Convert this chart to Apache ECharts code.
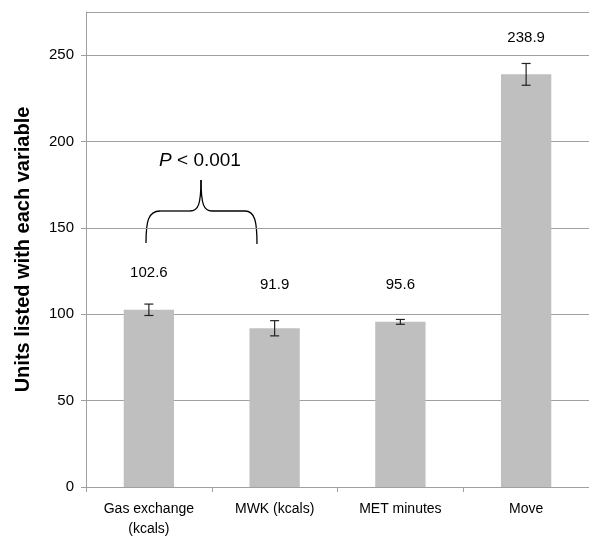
<!DOCTYPE html>
<html>
<head>
<meta charset="utf-8">
<script src="https://cdn.jsdelivr.net/npm/echarts@6/dist/echarts.min.js"></script>
<style>html,body{margin:0;padding:0;background:#fff;}#c{width:589px;height:539px;}</style>
</head>
<body>
<div id="c"></div>
<script>
var categories = ['Gas exchange\n(kcals)', 'MWK (kcals)', 'MET minutes', 'Move'];
var values = [102.6, 91.9, 95.6, 238.9];
var errors = [3.3, 4.4, 1.4, 6.3];
var labelGaps = [29, 36, 30, 29];
var yTicks = [0, 50, 100, 150, 200, 250];

var chart = echarts.init(document.getElementById('c'), null, {renderer: 'canvas'});
var font = 'Liberation Sans, Arial, sans-serif';

var barData = values.map(function (v, i) {
  return {value: v, label: {distance: labelGaps[i]}};
});
var errData = values.map(function (v, i) { return [i, v - errors[i], v + errors[i]]; });

var braceStyle = {stroke: '#000', lineWidth: 1.3, fill: null};
function bez(x1, y1, c1x, c1y, c2x, c2y, x2, y2) {
  return {type: 'bezierCurve', shape: {x1: x1, y1: y1, cpx1: c1x, cpy1: c1y, cpx2: c2x, cpy2: c2y, x2: x2, y2: y2}, style: braceStyle};
}
function ln(x1, y1, x2, y2) {
  return {type: 'line', shape: {x1: x1, y1: y1, x2: x2, y2: y2}, style: braceStyle};
}

chart.setOption({
  animation: false,
  grid: {left: 86, top: 12, right: -5, bottom: 48, containLabel: false},
  xAxis: {
    type: 'category',
    data: categories,
    axisLine: {lineStyle: {color: '#a0a0a0', width: 1}},
    axisTick: {show: true, length: 5, alignWithLabel: false, lineStyle: {color: '#a0a0a0'}},
    axisLabel: {color: '#000', fontFamily: font, fontSize: 14, margin: 12, lineHeight: 20, interval: 0}
  },
  yAxis: {
    type: 'value',
    min: 0, max: 275, interval: 50,
    name: 'Units listed with each variable',
    nameLocation: 'middle',
    nameGap: 53,
    nameTextStyle: {color: '#000', fontFamily: font, fontSize: 20, fontWeight: 'bold'},
    axisLine: {show: true, lineStyle: {color: '#a0a0a0', width: 1}},
    axisTick: {show: true, length: 5, lineStyle: {color: '#a0a0a0'}},
    axisLabel: {color: '#000', fontFamily: font, fontSize: 15, margin: 12, showMaxLabel: false,
      formatter: function (v) { return yTicks.indexOf(v) >= 0 ? String(v) : ''; }},
    splitLine: {show: true, lineStyle: {color: '#a0a0a0', width: 1}}
  },
  series: [
    {
      type: 'bar',
      data: barData,
      barWidth: '40%',
      itemStyle: {color: '#bfbfbf'},
      label: {show: true, position: 'top', color: '#000', fontFamily: font, fontSize: 15}
    },
    {
      type: 'custom',
      data: errData,
      z: 10,
      renderItem: function (params, api) {
        var x = api.value(0);
        var lo = api.coord([x, api.value(1)]);
        var hi = api.coord([x, api.value(2)]);
        var w = 4.5;
        var st = {stroke: '#222', lineWidth: 1.2};
        return {
          type: 'group',
          children: [
            {type: 'line', shape: {x1: lo[0], y1: lo[1], x2: hi[0], y2: hi[1]}, style: st},
            {type: 'line', shape: {x1: lo[0] - w, y1: lo[1], x2: lo[0] + w, y2: lo[1]}, style: st},
            {type: 'line', shape: {x1: hi[0] - w, y1: hi[1], x2: hi[0] + w, y2: hi[1]}, style: st}
          ]
        };
      }
    }
  ],
  graphic: [
    bez(146, 243, 146, 222, 148, 211, 160, 211),
    ln(160, 211, 190, 211),
    bez(190, 211, 198, 211, 201, 205, 201, 180),
    bez(201, 180, 201, 205, 204, 211, 212, 211),
    ln(212, 211, 245, 211),
    bez(245, 211, 255, 211, 257, 222, 257, 244),
    {
      type: 'text',
      x: 200, y: 161,
      style: {
        text: '{i|P} < 0.001',
        align: 'center', verticalAlign: 'middle',
        fontFamily: font, fontSize: 19, fill: '#000',
        rich: {i: {fontStyle: 'italic', fontFamily: font, fontSize: 19}}
      }
    }
  ]
});
</script>
</body>
</html>
